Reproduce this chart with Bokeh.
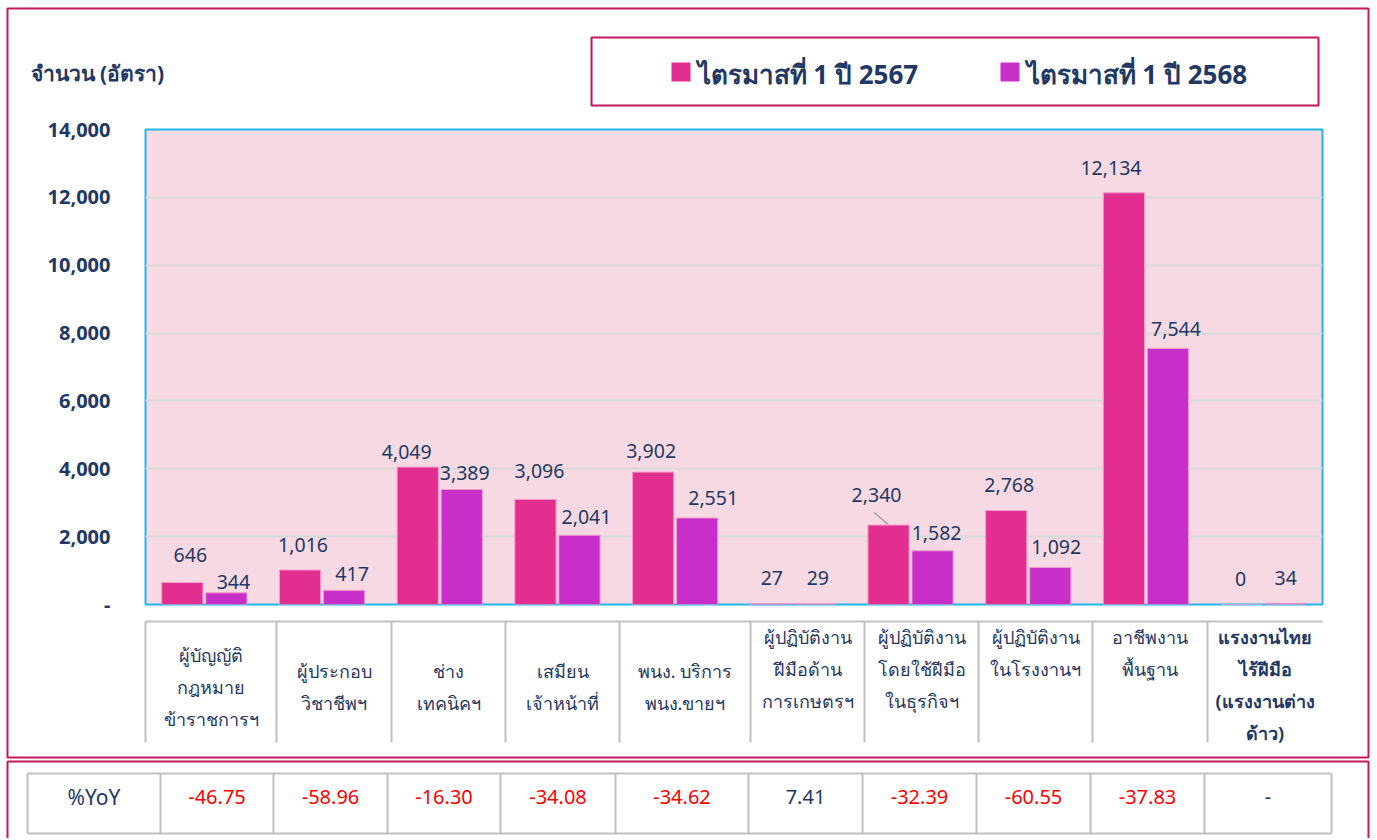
from bokeh.plotting import figure
from bokeh.models import (ColumnDataSource, Range1d, FixedTicker,
                          CustomJSTickFormatter, Arrow)
from bokeh.transform import dodge
from bokeh.core.properties import value
from bokeh.embed import file_html
from bokeh.resources import INLINE

# ---------------- data ----------------
categories = [
    "ผู้บัญญัติ\nกฎหมาย\nข้าราชการฯ",
    "ผู้ประกอบ\nวิชาชีพฯ",
    "ช่าง\nเทคนิคฯ",
    "เสมียน\nเจ้าหน้าที่",
    "พนง. บริการ\nพนง.ขายฯ",
    "ผู้ปฏิบัติงาน\nฝีมือด้าน\nการเกษตรฯ",
    "ผู้ปฏิบัติงาน\nโดยใช้ฝีมือ\nในธุรกิจฯ",
    "ผู้ปฏิบัติงาน\nในโรงงานฯ",
    "อาชีพงาน\nพื้นฐาน",
    "แรงงานไทย\nไร้ฝีมือ\n(แรงงานต่าง\nด้าว)",
]
series_names = ["ไตรมาสที่ 1 ปี 2567", "ไตรมาสที่ 1 ปี 2568"]
q1_2567 = [646, 1016, 4049, 3096, 3902, 27, 2340, 2768, 12134, 0]
q1_2568 = [344, 417, 3389, 2041, 2551, 29, 1582, 1092, 7544, 34]
yoy_pct = [-46.75, -58.96, -16.30, -34.08, -34.62, 7.41, -32.39, -60.55, -37.83, None]
y_ticks = [0, 2000, 4000, 6000, 8000, 10000, 12000, 14000]
y_title = "จำนวน (อัตรา)"
yoy_title = "%YoY"

# label nudges in pixels (manual placement as in the original)
nudge_dx_a = [8, 3, -11, 4, -2, 1, -12, 3, -13, -1]
nudge_dy_a = [28, 25, 15, 28, 21, 26, 30, 26, 25, 26]
nudge_dx_b = [7, 8, 3, 7, 16, 3, 4, 6, 8, 0]
nudge_dy_b = [11, 16, 17, 18, 20, 26, 18, 20, 20, 25]

# ---------------- style ----------------
PINK = "#E22E8E"
PURPLE = "#C72FC8"
NAVY = "#1F3864"
MAG = "#C1185E"
GRIDC = "#D9D9D9"
TABLEC = "#BFBFBF"
FONT = "Noto Sans"

W, H = 1375, 838
FL, FR, FT, FB = 145, 1322, 129, 604   # frame in page pixels
n = len(categories)
p = figure(width=W, height=H, output_backend="svg", toolbar_location=None,
           x_range=Range1d(0, n), y_range=Range1d(0, 14000),
           x_axis_location=None,
           min_border_left=FL, min_border_right=W - FR,
           min_border_top=FT, min_border_bottom=H - FB)
p.background_fill_color = "#F7D9E3"
p.border_fill_color = "white"
p.outline_line_color = "#21B6EB"
p.outline_line_width = 2

ax = p.yaxis[0]
ax.ticker = FixedTicker(ticks=y_ticks)
ax.formatter = CustomJSTickFormatter(code="return tick == 0 ? '-' : tick.toLocaleString('en-US');")
ax.axis_line_color = None
ax.major_tick_line_color = None
ax.minor_tick_line_color = None
ax.major_tick_out = 0
ax.major_tick_in = 0
ax.major_label_standoff = 35
ax.major_label_text_font = FONT
ax.major_label_text_font_size = "20px"
ax.major_label_text_font_style = "bold"
ax.major_label_text_color = NAVY

p.xgrid.visible = False
p.ygrid.ticker = FixedTicker(ticks=y_ticks[1:-1])
p.ygrid.grid_line_color = GRIDC
p.ygrid.grid_line_width = 2

src = ColumnDataSource(dict(
    xc=[k + 0.5 for k in range(n)], cat=categories, a=q1_2567, b=q1_2568,
    la=[f"{v:,}" for v in q1_2567], lb=[f"{v:,}" for v in q1_2568],
    dxa=nudge_dx_a, dya=[-d for d in nudge_dy_a],
    dxb=nudge_dx_b, dyb=[-d for d in nudge_dy_b],
))
OFF, BW = 0.187, 0.35
p.vbar(x=dodge("xc", -OFF), top="a", width=BW, source=src,
       fill_color=PINK, line_color="#F39BCB", line_width=1)
p.vbar(x=dodge("xc", OFF), top="b", width=BW, source=src,
       fill_color=PURPLE, line_color="#F39BCB", line_width=1)
for col, key, sx, ox, oy in (("a", "la", -OFF, "dxa", "dya"), ("b", "lb", OFF, "dxb", "dyb")):
    p.text(x=dodge("xc", sx), y=col,
           text=key, x_offset=ox, y_offset=oy, source=src,
           text_align="center", text_baseline="middle",
           text_font=value(FONT), text_font_size="19.5px", text_color=NAVY)

# leader line for the nudged label of category 7
i = 6
p.add_layout(Arrow(end=None, x_start=i + 0.5 - OFF - 0.125, y_start=q1_2567[i] + 380,
                   x_end=i + 0.5 - OFF - 0.005, y_end=q1_2567[i] + 20,
                   line_color="#A6A6A6", line_width=1.5))

# ---------------- page-pixel decorations (overlay level, not clipped) ----------------
p.extra_x_ranges = {"px": Range1d(FL, FR)}
p.extra_y_ranges = {"py": Range1d(FB, FT)}
PX = dict(x_range_name="px", y_range_name="py", level="overlay")


def box(l, r, t, b, fill=None, line=None, lw=2):
    p.quad(left=[l], right=[r], top=[t], bottom=[b],
           fill_color=fill if fill else "white", fill_alpha=1 if fill else 0,
           line_color=line if line else "white", line_alpha=1 if line else 0,
           line_width=lw, **PX)


def hline(x0, x1, y, c, w=2):
    box(x0, x1, y - w / 2, y + w / 2, fill=c)


def vline(x, y0, y1, c, w=2):
    box(x - w / 2, x + w / 2, y0, y1, fill=c)


def text(x, y, s, size, color=NAVY, bold=False, align="center"):
    p.text(x=[x], y=[y], text=[s], text_font=value(FONT), text_font_size=size,
           text_color=color, text_font_style="bold" if bold else "normal",
           text_align=align, text_baseline="middle", **PX)


# outer frames
box(7, 1368, 8, 757, line=MAG, lw=2)
box(7, 1368, 761, 860, line=MAG, lw=2)

# legend
box(591, 1318, 37, 105, fill="white", line=MAG, lw=2)
for (sx0, tx), name, col in zip(((671, 697), (1000, 1026)), series_names, (PINK, PURPLE)):
    box(sx0, sx0 + 19, 62, 81, fill=col)
    text(tx, 73, name, "26px", bold=True, align="left")

# y title
text(30, 72, y_title, "21px", bold=True, align="left")

# category table under the chart
cat_edges = [145, 276, 391, 505, 619, 750, 864, 978, 1092, 1207, 1322]
hline(145, 1322, 621, TABLEC)
for e in cat_edges[:-1]:
    vline(e, 621, 742, TABLEC)
for k, name in enumerate(categories):
    cx = (cat_edges[k] + cat_edges[k + 1]) / 2
    lines = name.split("\n")
    if k < 5:
        y0 = 686 - (len(lines) - 1) * 16
    else:
        y0 = 636
    for j, ln in enumerate(lines):
        text(cx, y0 + 32 * j, ln, "18px", bold=(k == 9))

# YoY table
yoy_edges = [27, 160, 273, 387, 500, 615, 748, 862, 976, 1090, 1204, 1331]
hline(27, 1331, 773, TABLEC)
hline(27, 1331, 833, TABLEC)
for e in yoy_edges:
    vline(e, 773, 833, TABLEC)
text((yoy_edges[0] + yoy_edges[1]) / 2, 796, yoy_title, "21px")
for k, v in enumerate(yoy_pct):
    cx = (yoy_edges[k + 1] + yoy_edges[k + 2]) / 2
    if v is None:
        s, c = "-", NAVY
    else:
        s, c = f"{v:.2f}", ("#FF0000" if v < 0 else NAVY)
    text(cx, 796, s, "20px", color=c)

open("out.html", "w").write(file_html(p, INLINE))
